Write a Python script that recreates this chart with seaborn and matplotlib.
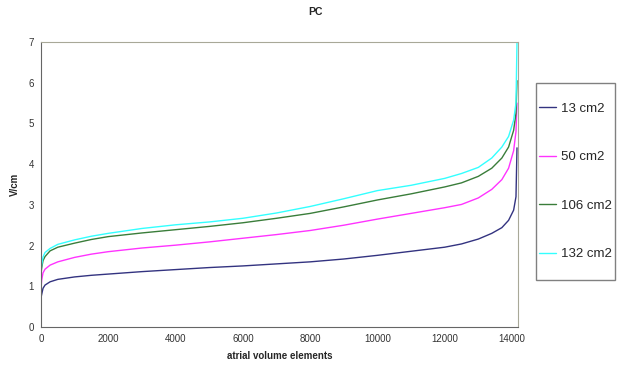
import pandas as pd
import matplotlib
matplotlib.use("Agg")
import matplotlib.pyplot as plt
from matplotlib.patches import Rectangle
import seaborn as sns

elements = [0, 20, 60, 120, 270, 500, 1000, 1500, 2000, 3000, 4000, 5000, 6000,
            7000, 8000, 9000, 10000, 11000, 12000, 12500, 13000, 13400, 13700,
            13900, 14050, 14120, 14150]
v13 = [0.72, 0.8, 0.95, 1.03, 1.11, 1.17, 1.23, 1.27, 1.3, 1.36, 1.41, 1.46, 1.5,
       1.55, 1.6, 1.67, 1.76, 1.86, 1.96, 2.04, 2.16, 2.3, 2.44, 2.62, 2.87, 3.2, 4.4]
v50 = [0.95, 1.15, 1.33, 1.42, 1.52, 1.6, 1.71, 1.79, 1.85, 1.94, 2.01, 2.09, 2.18,
       2.27, 2.37, 2.5, 2.65, 2.79, 2.93, 3.01, 3.17, 3.38, 3.62, 3.9, 4.33, 4.8, 5.5]
v106 = [1.3, 1.45, 1.63, 1.73, 1.87, 1.96, 2.06, 2.15, 2.22, 2.31, 2.39, 2.47, 2.56,
        2.67, 2.79, 2.95, 3.12, 3.27, 3.44, 3.54, 3.7, 3.9, 4.15, 4.42, 4.83, 5.25, 6.05]
v132 = [1.35, 1.52, 1.72, 1.83, 1.93, 2.03, 2.14, 2.23, 2.3, 2.42, 2.51, 2.58, 2.67,
        2.8, 2.96, 3.15, 3.35, 3.48, 3.65, 3.77, 3.92, 4.15, 4.42, 4.68, 5.08, 5.5, 7.0]
labels = ["13 cm2", "50 cm2", "106 cm2", "132 cm2"]
colors = ["#333380", "#ff33ff", "#3a7d3a", "#33ffff"]

rows = []
for lab, vals in zip(labels, [v13, v50, v106, v132]):
    for x, y in zip(elements, vals):
        rows.append({"elements": x, "V/cm": y, "area": lab})
df = pd.DataFrame(rows)

sns.set_style("white")
plt.rcParams["font.family"] = ["Liberation Sans", "DejaVu Sans"]

fig = plt.figure(figsize=(6.39, 3.65), dpi=100)
ax = fig.add_axes([41 / 639, 38 / 365, 477 / 639, 285 / 365])
sns.lineplot(data=df, x="elements", y="V/cm", hue="area", palette=colors,
             linewidth=1.0, ax=ax, legend=False)

ax.set_xlim(0, 14180)
ax.set_ylim(0, 7)
ax.set_xticks(range(0, 14001, 2000))
ax.set_yticks(range(0, 8))
ax.tick_params(axis="both", labelsize=7, labelcolor="#333333", direction="out",
               length=3, width=0.8, color="#555555", pad=2)
ax.set_xlabel("atrial volume elements", fontsize=7, fontweight="bold", labelpad=5)
ax.set_ylabel("V/cm", fontsize=7, fontweight="bold", labelpad=6)
fig.suptitle("PC", fontsize=7.5, fontweight="bold", x=0.493, y=0.982)
for side in ["left", "bottom"]:
    ax.spines[side].set_color("#666666")
for side in ["top", "right"]:
    ax.spines[side].set_color("#a8a898")
    ax.spines[side].set_visible(True)

# legend box
fig.patches.append(Rectangle((536 / 639, 1 - 280 / 365), 79 / 639, 197 / 365,
                             transform=fig.transFigure, facecolor="white",
                             edgecolor="#808080", linewidth=1.0))
handles = [plt.Line2D([], [], color=c, lw=1.0) for c in colors]
leg = fig.legend(handles, labels, loc="center left",
                 bbox_to_anchor=(539 / 639, 1 - 181.5 / 365), fontsize=9.5,
                 frameon=False, handlelength=1.3, handletextpad=0.35,
                 labelspacing=2.75, borderpad=0, borderaxespad=0)

fig.savefig("out.png", dpi=100)
